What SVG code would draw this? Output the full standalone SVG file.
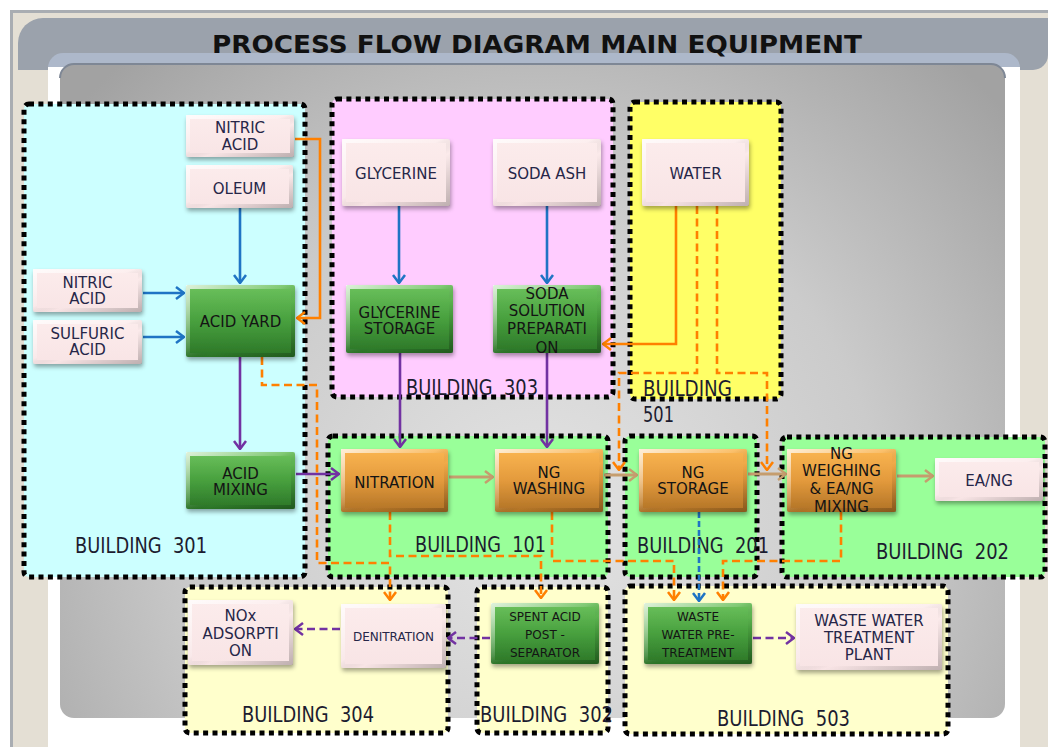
<svg xmlns="http://www.w3.org/2000/svg" width="1048" height="747" viewBox="0 0 1048 747">
  <defs>
    <style>
      .bld { stroke: #000; stroke-width: 5; stroke-dasharray: 5 4.4; }
      .blbl { font-family: "DejaVu Sans", Verdana, sans-serif; font-size: 21px; fill: #1c1c30; white-space: pre; }
      .nt { font-family: "DejaVu Sans", Verdana, sans-serif; font-size: 15px; text-anchor: middle; }
      .ns { font-family: "DejaVu Sans", Verdana, sans-serif; font-size: 12px; text-anchor: middle; }
      .pink .nt, .pink .ns { fill: #262648; }
      .green .nt, .green .ns, .orange .nt { fill: #141414; }
      .pink > rect.body { fill: url(#gPink); }
      .green > rect.body { fill: url(#gGreen); }
      .orange > rect.body { fill: url(#gOrange); }
      rect.body { filter: url(#shadow); }
      rect.bevel { fill: none; stroke: url(#gBevel); stroke-width: 4; }
      .c { fill: none; stroke-width: 2.6; }
      .blue { stroke: #1f74c4; marker-end: url(#aBlue); }
      .purple { stroke: #7232a2; marker-end: url(#aPurple); }
      .tan { stroke: #c59d6e; stroke-width: 3; marker-end: url(#aTan); }
      .orng { stroke: #ff8000; marker-end: url(#aOrange); }
      .dash { stroke-dasharray: 8 4.5; }
      .bdash { stroke-dasharray: 6 3; }
    </style>
    <linearGradient id="gPink" x1="0" y1="0" x2="0" y2="1">
      <stop offset="0" stop-color="#fcecec"/>
      <stop offset="1" stop-color="#f8e4e5"/>
    </linearGradient>
    <linearGradient id="gGreen" x1="0" y1="0" x2="0" y2="1">
      <stop offset="0" stop-color="#6cc25d"/>
      <stop offset="0.5" stop-color="#48a03e"/>
      <stop offset="1" stop-color="#2b7527"/>
    </linearGradient>
    <linearGradient id="gOrange" x1="0" y1="0" x2="0" y2="1">
      <stop offset="0" stop-color="#fbb652"/>
      <stop offset="0.5" stop-color="#e39a3c"/>
      <stop offset="1" stop-color="#b07226"/>
    </linearGradient>
    <linearGradient id="gBevel" x1="0" y1="0" x2="1" y2="1">
      <stop offset="0" stop-color="#fff" stop-opacity="0.75"/>
      <stop offset="0.45" stop-color="#fff" stop-opacity="0.15"/>
      <stop offset="0.6" stop-color="#000" stop-opacity="0"/>
      <stop offset="1" stop-color="#000" stop-opacity="0.22"/>
    </linearGradient>
    <radialGradient id="gPanel" gradientUnits="userSpaceOnUse" cx="540" cy="520" r="620">
      <stop offset="0" stop-color="#e4e4e4"/>
      <stop offset="0.55" stop-color="#cbcbcb"/>
      <stop offset="1" stop-color="#a2a2a2"/>
    </radialGradient>
    <filter id="shadow" x="-10%" y="-10%" width="125%" height="135%">
      <feDropShadow dx="1" dy="3" stdDeviation="2" flood-color="#000" flood-opacity="0.35"/>
    </filter>
    <marker id="aBlue" viewBox="0 0 10 14" markerUnits="userSpaceOnUse" markerWidth="10" markerHeight="14" refX="9" refY="7" orient="auto">
      <path d="M1,1 L9,7 L1,13" fill="none" stroke="#1f74c4" stroke-width="2.5"/>
    </marker>
    <marker id="aPurple" viewBox="0 0 10 14" markerUnits="userSpaceOnUse" markerWidth="10" markerHeight="14" refX="9" refY="7" orient="auto">
      <path d="M1,1 L9,7 L1,13" fill="none" stroke="#7232a2" stroke-width="2.5"/>
    </marker>
    <marker id="aTan" viewBox="0 0 10 14" markerUnits="userSpaceOnUse" markerWidth="10" markerHeight="14" refX="9" refY="7" orient="auto">
      <path d="M1,1 L9,7 L1,13" fill="none" stroke="#c59d6e" stroke-width="2.5"/>
    </marker>
    <marker id="aOrange" viewBox="0 0 10 14" markerUnits="userSpaceOnUse" markerWidth="10" markerHeight="14" refX="9" refY="7" orient="auto">
      <path d="M1,1 L9,7 L1,13" fill="none" stroke="#ff8000" stroke-width="2.5"/>
    </marker>
  </defs>

  <!-- page background and frame -->
  <rect x="0" y="0" width="1048" height="747" fill="#ffffff"/>
  <rect x="10" y="10" width="1038" height="737" fill="#e4dfd4"/>
  <rect x="10" y="10" width="1038" height="3" fill="#a9adb2"/>
  <rect x="10" y="10" width="3" height="737" fill="#a9adb2"/>
  <path d="M18,70 V43 A25,25 0 0 1 43,18 H1048 V55 A15,15 0 0 1 1033,70 Z" fill="#9ba2ac"/>
  <rect x="48" y="53" width="972" height="40" rx="15" fill="#adb8ca"/>
  <rect x="48" y="67" width="972" height="690" fill="#ffffff"/>
  <rect x="60" y="64" width="945" height="654" rx="14" fill="url(#gPanel)"/>
  <path d="M60,78 A14,14 0 0 1 74,64 H991 A14,14 0 0 1 1005,78" fill="none" stroke="#7e8795" stroke-width="2"/>
  <text x="212" y="53" font-family="DejaVu Sans, Verdana, sans-serif" font-weight="bold" font-size="25" fill="#111" textLength="650" lengthAdjust="spacingAndGlyphs">PROCESS FLOW DIAGRAM MAIN EQUIPMENT</text>

  <!-- buildings -->
  <g id="building-301"><rect class="bld" x="24" y="104" width="281" height="473" rx="5" fill="#ccffff"/></g>
  <g id="building-303"><rect class="bld" x="332" y="99" width="281" height="298" rx="5" fill="#ffccff"/></g>
  <g id="building-501"><rect class="bld" x="630" y="102" width="151" height="297" rx="5" fill="#ffff66"/></g>
  <g id="building-101"><rect class="bld" x="328" y="436" width="280" height="141" rx="5" fill="#99ff99"/></g>
  <g id="building-201"><rect class="bld" x="625" y="436" width="132" height="141" rx="5" fill="#99ff99"/></g>
  <g id="building-202"><rect class="bld" x="782" y="437" width="263" height="140" rx="5" fill="#99ff99"/></g>
  <g id="building-304"><rect class="bld" x="185" y="587" width="263" height="146" rx="5" fill="#ffffcc"/></g>
  <g id="building-302"><rect class="bld" x="477" y="587" width="131" height="146" rx="5" fill="#ffffcc"/></g>
  <g id="building-503"><rect class="bld" x="625" y="586" width="323" height="148" rx="5" fill="#ffffcc"/></g>

  <!-- building labels -->
  <g id="building-labels">
    <text class="blbl" x="75" y="553" textLength="132" lengthAdjust="spacingAndGlyphs">BUILDING  301</text>
    <text class="blbl" x="406" y="395" textLength="132" lengthAdjust="spacingAndGlyphs">BUILDING  303</text>
    <text class="blbl" x="643" y="396" textLength="89" lengthAdjust="spacingAndGlyphs">BUILDING</text>
    <text class="blbl" x="643" y="422" textLength="31" lengthAdjust="spacingAndGlyphs">501</text>
    <text class="blbl" x="415" y="552" textLength="131" lengthAdjust="spacingAndGlyphs">BUILDING  101</text>
    <text class="blbl" x="637" y="553" textLength="132" lengthAdjust="spacingAndGlyphs">BUILDING  201</text>
    <text class="blbl" x="876" y="559" textLength="133" lengthAdjust="spacingAndGlyphs">BUILDING  202</text>
    <text class="blbl" x="242" y="722" textLength="132" lengthAdjust="spacingAndGlyphs">BUILDING  304</text>
    <text class="blbl" x="480" y="722" textLength="133" lengthAdjust="spacingAndGlyphs">BUILDING  302</text>
    <text class="blbl" x="717" y="726" textLength="133" lengthAdjust="spacingAndGlyphs">BUILDING  503</text>
  </g>

  <!-- connectors -->
  <g id="connectors">
    <!-- raw material feeds -->
    <path class="c blue" d="M240,208 V283"/>
    <path class="c blue" d="M143,293 H184"/>
    <path class="c blue" d="M143,337 H184"/>
    <path class="c blue" d="M399,206 V283"/>
    <path class="c blue" d="M547,206 V283"/>
    <path class="c blue bdash" d="M699,512 V601"/>
    <!-- acid and glycerine transfer -->
    <path class="c purple" d="M240,357 V449"/>
    <path class="c purple" d="M296,474 H339"/>
    <path class="c purple" d="M400,353 V447"/>
    <path class="c purple" d="M547,353 V447"/>
    <path class="c purple dash" d="M340,629 H295"/>
    <path class="c purple dash" d="M490,638 H448"/>
    <path class="c purple dash" d="M753,638 H794"/>
    <!-- NG product line -->
    <path class="c tan" d="M449,477 H493"/>
    <path class="c tan" d="M604,475 H637"/>
    <path class="c tan" d="M748,474 H786"/>
    <path class="c tan" d="M897,476 H933"/>
    <!-- water and return lines -->
    <path class="c orng" d="M295,139 H320 V318 H297"/>
    <path class="c orng" d="M676,206 V344 H603"/>
    <path class="c orng dash" d="M697,206 V373 H619 V470"/>
    <path class="c orng dash" d="M717,206 V373 H767 V470"/>
    <path class="c orng dash" d="M262,357 V385 H317 V563 H390 V600"/>
    <path class="c orng dash" d="M390,512 V556 H541 V598"/>
    <path class="c orng dash" d="M552,512 V561 H674 V600"/>
    <path class="c orng dash" d="M841,512 V561 H723 V600"/>
  </g>

  <!-- raw materials and end products -->
  <g id="nitric-acid-1" class="pink">
    <rect class="body" x="186" y="115" width="108" height="42" rx="2"/>
    <rect class="bevel" x="188" y="117" width="104" height="38"/>
    <text class="nt" x="240" y="132.5">NITRIC</text>
    <text class="nt" x="240" y="149.5">ACID</text>
  </g>
  <g id="oleum" class="pink">
    <rect class="body" x="186" y="165" width="107" height="43" rx="2"/>
    <rect class="bevel" x="188" y="167" width="103" height="39"/>
    <text class="nt" x="239.5" y="193.5">OLEUM</text>
  </g>
  <g id="nitric-acid-2" class="pink">
    <rect class="body" x="33" y="269" width="109" height="43" rx="2"/>
    <rect class="bevel" x="35" y="271" width="105" height="39"/>
    <text class="nt" x="87.5" y="287.5">NITRIC</text>
    <text class="nt" x="87.5" y="303.5">ACID</text>
  </g>
  <g id="sulfuric-acid" class="pink">
    <rect class="body" x="33" y="320" width="109" height="44" rx="2"/>
    <rect class="bevel" x="35" y="322" width="105" height="40"/>
    <text class="nt" x="87.5" y="338.5">SULFURIC</text>
    <text class="nt" x="87.5" y="354.5">ACID</text>
  </g>
  <g id="glycerine" class="pink">
    <rect class="body" x="342" y="139" width="108" height="67" rx="2"/>
    <rect class="bevel" x="344" y="141" width="104" height="63"/>
    <text class="nt" x="396" y="178.5">GLYCERINE</text>
  </g>
  <g id="soda-ash" class="pink">
    <rect class="body" x="493" y="139" width="108" height="67" rx="2"/>
    <rect class="bevel" x="495" y="141" width="104" height="63"/>
    <text class="nt" x="547" y="178.5">SODA ASH</text>
  </g>
  <g id="water" class="pink">
    <rect class="body" x="642" y="139" width="107" height="67" rx="2"/>
    <rect class="bevel" x="644" y="141" width="103" height="63"/>
    <text class="nt" x="695.5" y="178.5">WATER</text>
  </g>
  <g id="ea-ng" class="pink">
    <rect class="body" x="935" y="458" width="108" height="43" rx="2"/>
    <rect class="bevel" x="937" y="460" width="104" height="39"/>
    <text class="nt" x="989" y="485.5">EA/NG</text>
  </g>
  <g id="nox-adsorption" class="pink">
    <rect class="body" x="188" y="600" width="105" height="65" rx="2"/>
    <rect class="bevel" x="190" y="602" width="101" height="61"/>
    <text class="nt" x="240.5" y="620.5">NOx</text>
    <text class="nt" x="240.5" y="638.5">ADSORPTI</text>
    <text class="nt" x="240.5" y="655.5">ON</text>
  </g>
  <g id="denitration" class="pink">
    <rect class="body" x="341" y="604" width="105" height="64" rx="2"/>
    <rect class="bevel" x="343" y="606" width="101" height="60"/>
    <text class="ns" x="393.5" y="640.5">DENITRATION</text>
  </g>
  <g id="waste-water-treatment-plant" class="pink">
    <rect class="body" x="796" y="604" width="146" height="66" rx="2"/>
    <rect class="bevel" x="798" y="606" width="142" height="62"/>
    <text class="nt" x="869" y="625.5">WASTE WATER</text>
    <text class="nt" x="869" y="642.5">TREATMENT</text>
    <text class="nt" x="869" y="659.5">PLANT</text>
  </g>

  <!-- storage and preparation units -->
  <g id="acid-yard" class="green">
    <rect class="body" x="186" y="285" width="109" height="72" rx="2"/>
    <rect class="bevel" x="188" y="287" width="105" height="68"/>
    <text class="nt" x="240.5" y="326.5">ACID YARD</text>
  </g>
  <g id="acid-mixing" class="green">
    <rect class="body" x="186" y="452" width="109" height="57" rx="2"/>
    <rect class="bevel" x="188" y="454" width="105" height="53"/>
    <text class="nt" x="240.5" y="478.5">ACID</text>
    <text class="nt" x="240.5" y="494.5">MIXING</text>
  </g>
  <g id="glycerine-storage" class="green">
    <rect class="body" x="346" y="285" width="107" height="68" rx="2"/>
    <rect class="bevel" x="348" y="287" width="103" height="64"/>
    <text class="nt" x="399.5" y="317.5">GLYCERINE</text>
    <text class="nt" x="399.5" y="333.5">STORAGE</text>
  </g>
  <g id="soda-solution-preparation" class="green">
    <rect class="body" x="493" y="285" width="108" height="68" rx="2"/>
    <rect class="bevel" x="495" y="287" width="104" height="64"/>
    <text class="nt" x="547" y="298.5">SODA</text>
    <text class="nt" x="547" y="315.5">SOLUTION</text>
    <text class="nt" x="547" y="333.5">PREPARATI</text>
    <text class="nt" x="547" y="352.5">ON</text>
  </g>
  <g id="spent-acid-post-separator" class="green">
    <rect class="body" x="491" y="603" width="108" height="61" rx="2"/>
    <rect class="bevel" x="493" y="605" width="104" height="57"/>
    <text class="ns" x="545" y="620.5">SPENT ACID</text>
    <text class="ns" x="545" y="638.5">POST -</text>
    <text class="ns" x="545" y="656.5">SEPARATOR</text>
  </g>
  <g id="waste-water-pre-treatment" class="green">
    <rect class="body" x="644" y="603" width="108" height="61" rx="2"/>
    <rect class="bevel" x="646" y="605" width="104" height="57"/>
    <text class="ns" x="698" y="620.5">WASTE</text>
    <text class="ns" x="698" y="638.5">WATER PRE-</text>
    <text class="ns" x="698" y="656.5">TREATMENT</text>
  </g>

  <!-- NG process units -->
  <g id="nitration" class="orange">
    <rect class="body" x="341" y="449" width="107" height="63" rx="2"/>
    <rect class="bevel" x="343" y="451" width="103" height="59"/>
    <text class="nt" x="394.5" y="487.5">NITRATION</text>
  </g>
  <g id="ng-washing" class="orange">
    <rect class="body" x="495" y="449" width="108" height="63" rx="2"/>
    <rect class="bevel" x="497" y="451" width="104" height="59"/>
    <text class="nt" x="549" y="477.5">NG</text>
    <text class="nt" x="549" y="493.5">WASHING</text>
  </g>
  <g id="ng-storage" class="orange">
    <rect class="body" x="639" y="449" width="108" height="63" rx="2"/>
    <rect class="bevel" x="641" y="451" width="104" height="59"/>
    <text class="nt" x="693" y="477.5">NG</text>
    <text class="nt" x="693" y="493.5">STORAGE</text>
  </g>
  <g id="ng-weighing-mixing" class="orange">
    <rect class="body" x="787" y="449" width="109" height="63" rx="2"/>
    <rect class="bevel" x="789" y="451" width="105" height="59"/>
    <text class="nt" x="841.5" y="458.5">NG</text>
    <text class="nt" x="841.5" y="475.5">WEIGHING</text>
    <text class="nt" x="841.5" y="493.5">&amp; EA/NG</text>
    <text class="nt" x="841.5" y="511.5">MIXING</text>
  </g>
</svg>
